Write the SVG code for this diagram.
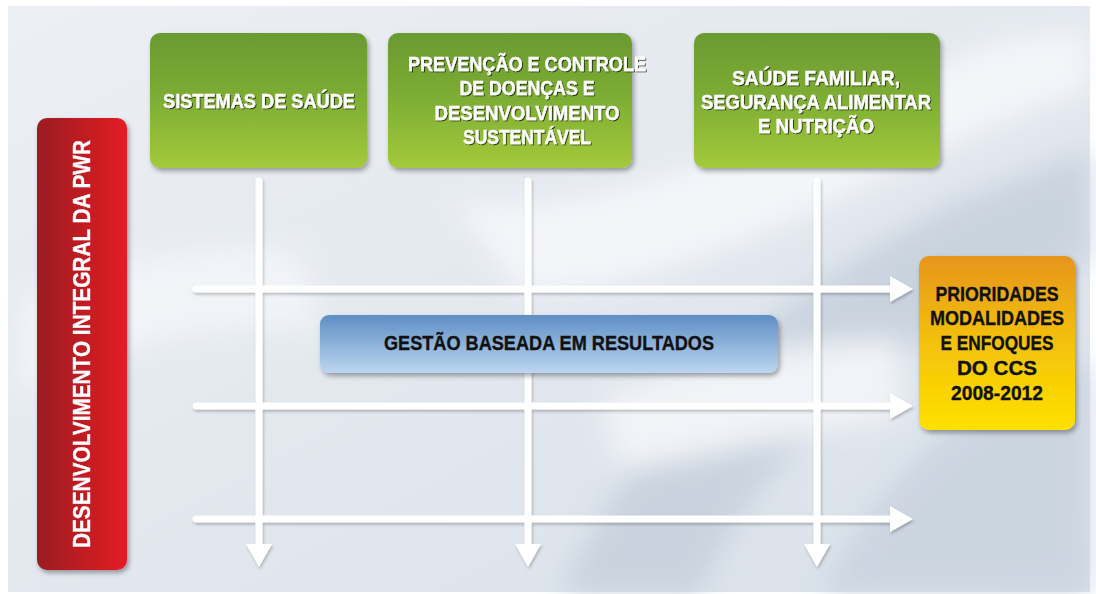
<svg xmlns="http://www.w3.org/2000/svg" width="1096" height="594" viewBox="0 0 1096 594">
<defs>
<linearGradient id="gGreen" x1="0" y1="0" x2="0" y2="1"><stop offset="0" stop-color="#6a9a31"/><stop offset="0.5" stop-color="#7eae34"/><stop offset="1" stop-color="#a4ca3b"/></linearGradient>
<linearGradient id="gRed" x1="0" y1="0" x2="1" y2="0"><stop offset="0" stop-color="#9a1a20"/><stop offset="1" stop-color="#e41e26"/></linearGradient>
<linearGradient id="gBlue" x1="0" y1="0" x2="0" y2="1"><stop offset="0" stop-color="#5e8ec4"/><stop offset="1" stop-color="#bcd6f0"/></linearGradient>
<linearGradient id="gOrange" x1="0" y1="0" x2="0" y2="1"><stop offset="0" stop-color="#e6951c"/><stop offset="0.5" stop-color="#f3c20a"/><stop offset="1" stop-color="#ffe100"/></linearGradient>
<linearGradient id="gBg" x1="0" y1="0" x2="1" y2="1"><stop offset="0" stop-color="#eceff4"/><stop offset="0.5" stop-color="#e3e8ef"/><stop offset="1" stop-color="#d9e0e9"/></linearGradient>
<filter id="sh" x="-10%" y="-10%" width="125%" height="130%"><feDropShadow dx="2" dy="3" stdDeviation="2.5" flood-color="#000" flood-opacity="0.35"/></filter>
<filter id="lsh" x="-5%" y="-50%" width="110%" height="200%"><feDropShadow dx="1" dy="2" stdDeviation="1.5" flood-color="#000" flood-opacity="0.25"/></filter>
<filter id="tsh" x="-5%" y="-20%" width="110%" height="150%"><feDropShadow dx="1" dy="1" stdDeviation="0.6" flood-color="#000" flood-opacity="0.7"/></filter>
<filter id="blur"><feGaussianBlur stdDeviation="14"/></filter>
<marker id="ah" viewBox="0 0 23 26" refX="1" refY="13" markerWidth="23" markerHeight="26" markerUnits="userSpaceOnUse" orient="auto"><path d="M0,0 L23,13 L0,26 Z" fill="#fff"/></marker>
</defs>
<style>
.wt{font-family:"Liberation Sans","Open Sans",sans-serif;font-weight:bold;fill:#fff;text-anchor:middle;font-size:20px;stroke:#fff;stroke-width:0.35}
.bt{font-family:"Liberation Sans","Open Sans",sans-serif;font-weight:bold;fill:#111;text-anchor:middle;font-size:20px;stroke:#111;stroke-width:0.35}
.ln{stroke:#fff;stroke-width:7;fill:none;stroke-linecap:round;marker-end:url(#ah)}
</style>
<rect x="0" y="0" width="1096" height="594" fill="#fff"/>
<g id="background">
<rect x="8" y="6" width="1082" height="586" fill="url(#gBg)"/>
<g filter="url(#blur)" opacity="0.85">
<path d="M560,594 C640,420 760,300 960,200 L1090,150 L1090,260 C900,330 760,450 700,594 Z" fill="#c6d0dc"/>
<path d="M450,200 C600,230 800,120 1000,40 L1090,30 L1090,90 C900,150 700,300 520,290 Z" fill="#f6f8fb"/>
<path d="M820,594 C880,480 960,400 1090,360 L1090,594 Z" fill="#c9d3df"/>
<path d="M20,300 C120,260 200,240 300,250 L320,330 C200,320 100,350 20,400 Z" fill="#f3f6f9"/>
<path d="M600,400 C700,360 780,340 900,340 L900,420 C800,430 700,460 620,470 Z" fill="#f4f6f9"/>
</g>
</g>
<g id="connectors" filter="url(#lsh)">
<line class="ln" x1="259" y1="181" x2="259" y2="545"/>
<line class="ln" x1="528" y1="181" x2="528" y2="545"/>
<line class="ln" x1="817" y1="181" x2="817" y2="545"/>
<line class="ln" x1="196" y1="289" x2="891" y2="289"/>
<line class="ln" x1="196" y1="406" x2="891" y2="406"/>
<line class="ln" x1="196" y1="519" x2="891" y2="519"/>
</g>
<g id="node-red" filter="url(#sh)">
<rect x="37" y="118" width="90" height="452" rx="10" fill="url(#gRed)"/>
<text class="wt" transform="translate(90,344) rotate(-90)" textLength="408" lengthAdjust="spacingAndGlyphs" style="font-size:23px">DESENVOLVIMENTO INTEGRAL DA PWR</text>
</g>
<g id="node-sistemas">
<rect x="150" y="33" width="217" height="135" rx="10" fill="url(#gGreen)" filter="url(#sh)"/>
<text class="wt" x="259" y="108" textLength="192" lengthAdjust="spacingAndGlyphs" filter="url(#tsh)">SISTEMAS DE SAÚDE</text>
</g>
<g id="node-prevencao">
<rect x="388" y="33" width="244" height="135" rx="10" fill="url(#gGreen)" filter="url(#sh)"/>
<g filter="url(#tsh)">
<text class="wt" x="527" y="71" textLength="238" lengthAdjust="spacingAndGlyphs">PREVENÇÃO E CONTROLE</text>
<text class="wt" x="527" y="95" textLength="135" lengthAdjust="spacingAndGlyphs">DE DOENÇAS E</text>
<text class="wt" x="527" y="120" textLength="185" lengthAdjust="spacingAndGlyphs">DESENVOLVIMENTO</text>
<text class="wt" x="527" y="144" textLength="128" lengthAdjust="spacingAndGlyphs">SUSTENTÁVEL</text>
</g>
</g>
<g id="node-saude-familiar">
<rect x="694" y="33" width="246" height="135" rx="10" fill="url(#gGreen)" filter="url(#sh)"/>
<g filter="url(#tsh)">
<text class="wt" x="816" y="85" textLength="168" lengthAdjust="spacingAndGlyphs">SAÚDE FAMILIAR,</text>
<text class="wt" x="816" y="109" textLength="230" lengthAdjust="spacingAndGlyphs">SEGURANÇA ALIMENTAR</text>
<text class="wt" x="816" y="133" textLength="116" lengthAdjust="spacingAndGlyphs">E NUTRIÇÃO</text>
</g>
</g>
<g id="node-gestao">
<rect x="320" y="315" width="458" height="58" rx="9" fill="url(#gBlue)" filter="url(#sh)"/>
<text class="bt" x="549" y="350" textLength="330" lengthAdjust="spacingAndGlyphs">GESTÃO BASEADA EM RESULTADOS</text>
</g>
<g id="node-prioridades">
<rect x="919" y="256" width="156" height="174" rx="10" fill="url(#gOrange)" filter="url(#sh)"/>
<text class="bt" x="997" y="301" textLength="123" lengthAdjust="spacingAndGlyphs">PRIORIDADES</text>
<text class="bt" x="997" y="325" textLength="134" lengthAdjust="spacingAndGlyphs">MODALIDADES</text>
<text class="bt" x="997" y="350" textLength="113" lengthAdjust="spacingAndGlyphs">E ENFOQUES</text>
<text class="bt" x="997" y="375" textLength="80" lengthAdjust="spacingAndGlyphs">DO CCS</text>
<text class="bt" x="997" y="400" textLength="92" lengthAdjust="spacingAndGlyphs">2008-2012</text>
</g>
</svg>
